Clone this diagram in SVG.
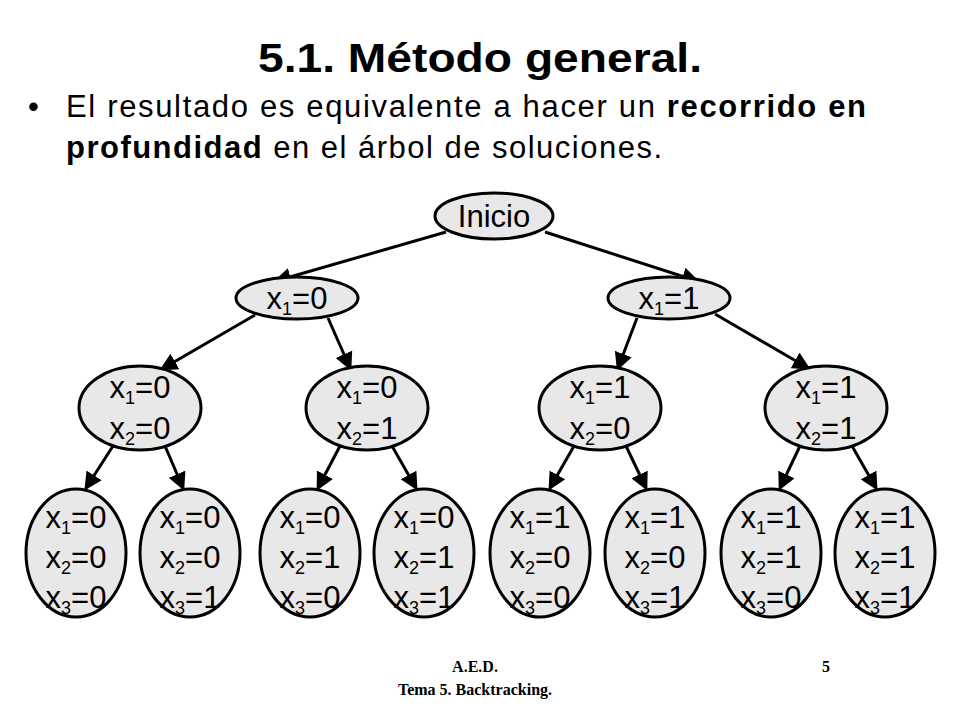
<svg xmlns="http://www.w3.org/2000/svg" width="960" height="720" viewBox="0 0 960 720">
<style>
.n{fill:#e8e8e8;stroke:#000;stroke-width:3}
.t{font-family:"Liberation Sans",Arial,sans-serif;font-size:31px;text-anchor:middle;fill:#000}
.s{font-size:18px}
.e{stroke:#000;stroke-width:3;fill:none;marker-end:url(#a)}
</style>
<defs><marker id="a" markerWidth="6" markerHeight="6" refX="5" refY="3" orient="auto"><path d="M0,0L6,3L0,6z" fill="#000"/></marker></defs>
<rect width="960" height="720" fill="#fff"/>
<text x="258" y="72" font-family="Liberation Sans,Arial,sans-serif" font-size="40" font-weight="bold" textLength="444" lengthAdjust="spacingAndGlyphs">5.1. Método general.</text>
<g font-family="Liberation Sans,Arial,sans-serif" font-size="31">
<text x="28" y="117">•</text>
<text x="66" y="117" textLength="800" lengthAdjust="spacing">El resultado es equivalente a hacer un <tspan font-weight="bold">recorrido en</tspan></text>
<text x="66" y="158" textLength="596" lengthAdjust="spacing"><tspan font-weight="bold">profundidad</tspan> en el árbol de soluciones.</text>
</g>
<g id="edges">
<line class="e" x1="446" y1="232" x2="276" y2="281"/>
<line class="e" x1="545" y1="232" x2="697" y2="281"/>
<line class="e" x1="255" y1="315" x2="162" y2="369"/>
<line class="e" x1="328" y1="318" x2="350" y2="368"/>
<line class="e" x1="637" y1="318" x2="618" y2="368"/>
<line class="e" x1="715" y1="314" x2="808" y2="368"/>
<line class="e" x1="113" y1="446" x2="86" y2="488"/>
<line class="e" x1="165" y1="446" x2="183" y2="488"/>
<line class="e" x1="340" y1="446" x2="318" y2="488"/>
<line class="e" x1="392" y1="446" x2="416" y2="488"/>
<line class="e" x1="574" y1="446" x2="550" y2="488"/>
<line class="e" x1="626" y1="446" x2="646" y2="488"/>
<line class="e" x1="800" y1="446" x2="780" y2="488"/>
<line class="e" x1="852" y1="446" x2="876" y2="488"/>
</g>
<g id="inicio"><ellipse class="n" cx="494" cy="216" rx="59" ry="23"/><text class="t" x="494" y="227">Inicio</text></g>
<g id="n0"><ellipse class="n" cx="297" cy="298" rx="61" ry="21"/><text class="t" x="297" y="309">x<tspan class="s" dy="6">1</tspan><tspan dy="-6">=0</tspan></text></g>
<g id="n1"><ellipse class="n" cx="669" cy="298" rx="61" ry="21"/><text class="t" x="669" y="309">x<tspan class="s" dy="6">1</tspan><tspan dy="-6">=1</tspan></text></g>
<g id="n00"><ellipse class="n" cx="140" cy="408" rx="61" ry="42"/><text class="t" x="140" y="398">x<tspan class="s" dy="6">1</tspan><tspan dy="-6">=0</tspan></text><text class="t" x="140" y="439">x<tspan class="s" dy="6">2</tspan><tspan dy="-6">=0</tspan></text></g>
<g id="n01"><ellipse class="n" cx="367" cy="408" rx="61" ry="42"/><text class="t" x="367" y="398">x<tspan class="s" dy="6">1</tspan><tspan dy="-6">=0</tspan></text><text class="t" x="367" y="439">x<tspan class="s" dy="6">2</tspan><tspan dy="-6">=1</tspan></text></g>
<g id="n10"><ellipse class="n" cx="600" cy="408" rx="61" ry="42"/><text class="t" x="600" y="398">x<tspan class="s" dy="6">1</tspan><tspan dy="-6">=1</tspan></text><text class="t" x="600" y="439">x<tspan class="s" dy="6">2</tspan><tspan dy="-6">=0</tspan></text></g>
<g id="n11"><ellipse class="n" cx="826" cy="408" rx="61" ry="42"/><text class="t" x="826" y="398">x<tspan class="s" dy="6">1</tspan><tspan dy="-6">=1</tspan></text><text class="t" x="826" y="439">x<tspan class="s" dy="6">2</tspan><tspan dy="-6">=1</tspan></text></g>
<g id="l000"><ellipse class="n" cx="76" cy="553" rx="50" ry="64"/><text class="t" x="76" y="528">x<tspan class="s" dy="6">1</tspan><tspan dy="-6">=0</tspan></text><text class="t" x="76" y="568">x<tspan class="s" dy="6">2</tspan><tspan dy="-6">=0</tspan></text><text class="t" x="76" y="608">x<tspan class="s" dy="6">3</tspan><tspan dy="-6">=0</tspan></text></g>
<g id="l001"><ellipse class="n" cx="190" cy="553" rx="50" ry="64"/><text class="t" x="190" y="528">x<tspan class="s" dy="6">1</tspan><tspan dy="-6">=0</tspan></text><text class="t" x="190" y="568">x<tspan class="s" dy="6">2</tspan><tspan dy="-6">=0</tspan></text><text class="t" x="190" y="608">x<tspan class="s" dy="6">3</tspan><tspan dy="-6">=1</tspan></text></g>
<g id="l010"><ellipse class="n" cx="310" cy="553" rx="50" ry="64"/><text class="t" x="310" y="528">x<tspan class="s" dy="6">1</tspan><tspan dy="-6">=0</tspan></text><text class="t" x="310" y="568">x<tspan class="s" dy="6">2</tspan><tspan dy="-6">=1</tspan></text><text class="t" x="310" y="608">x<tspan class="s" dy="6">3</tspan><tspan dy="-6">=0</tspan></text></g>
<g id="l011"><ellipse class="n" cx="424" cy="553" rx="50" ry="64"/><text class="t" x="424" y="528">x<tspan class="s" dy="6">1</tspan><tspan dy="-6">=0</tspan></text><text class="t" x="424" y="568">x<tspan class="s" dy="6">2</tspan><tspan dy="-6">=1</tspan></text><text class="t" x="424" y="608">x<tspan class="s" dy="6">3</tspan><tspan dy="-6">=1</tspan></text></g>
<g id="l100"><ellipse class="n" cx="540" cy="553" rx="50" ry="64"/><text class="t" x="540" y="528">x<tspan class="s" dy="6">1</tspan><tspan dy="-6">=1</tspan></text><text class="t" x="540" y="568">x<tspan class="s" dy="6">2</tspan><tspan dy="-6">=0</tspan></text><text class="t" x="540" y="608">x<tspan class="s" dy="6">3</tspan><tspan dy="-6">=0</tspan></text></g>
<g id="l101"><ellipse class="n" cx="655" cy="553" rx="50" ry="64"/><text class="t" x="655" y="528">x<tspan class="s" dy="6">1</tspan><tspan dy="-6">=1</tspan></text><text class="t" x="655" y="568">x<tspan class="s" dy="6">2</tspan><tspan dy="-6">=0</tspan></text><text class="t" x="655" y="608">x<tspan class="s" dy="6">3</tspan><tspan dy="-6">=1</tspan></text></g>
<g id="l110"><ellipse class="n" cx="771" cy="553" rx="50" ry="64"/><text class="t" x="771" y="528">x<tspan class="s" dy="6">1</tspan><tspan dy="-6">=1</tspan></text><text class="t" x="771" y="568">x<tspan class="s" dy="6">2</tspan><tspan dy="-6">=1</tspan></text><text class="t" x="771" y="608">x<tspan class="s" dy="6">3</tspan><tspan dy="-6">=0</tspan></text></g>
<g id="l111"><ellipse class="n" cx="885" cy="553" rx="50" ry="64"/><text class="t" x="885" y="528">x<tspan class="s" dy="6">1</tspan><tspan dy="-6">=1</tspan></text><text class="t" x="885" y="568">x<tspan class="s" dy="6">2</tspan><tspan dy="-6">=1</tspan></text><text class="t" x="885" y="608">x<tspan class="s" dy="6">3</tspan><tspan dy="-6">=1</tspan></text></g>
<g font-family="Liberation Serif,Times New Roman,serif" font-size="16" font-weight="bold">
<text x="475" y="672" text-anchor="middle">A.E.D.</text>
<text x="475" y="695" text-anchor="middle">Tema 5. Backtracking.</text>
<text x="826" y="672" text-anchor="middle">5</text>
</g>
</svg>
